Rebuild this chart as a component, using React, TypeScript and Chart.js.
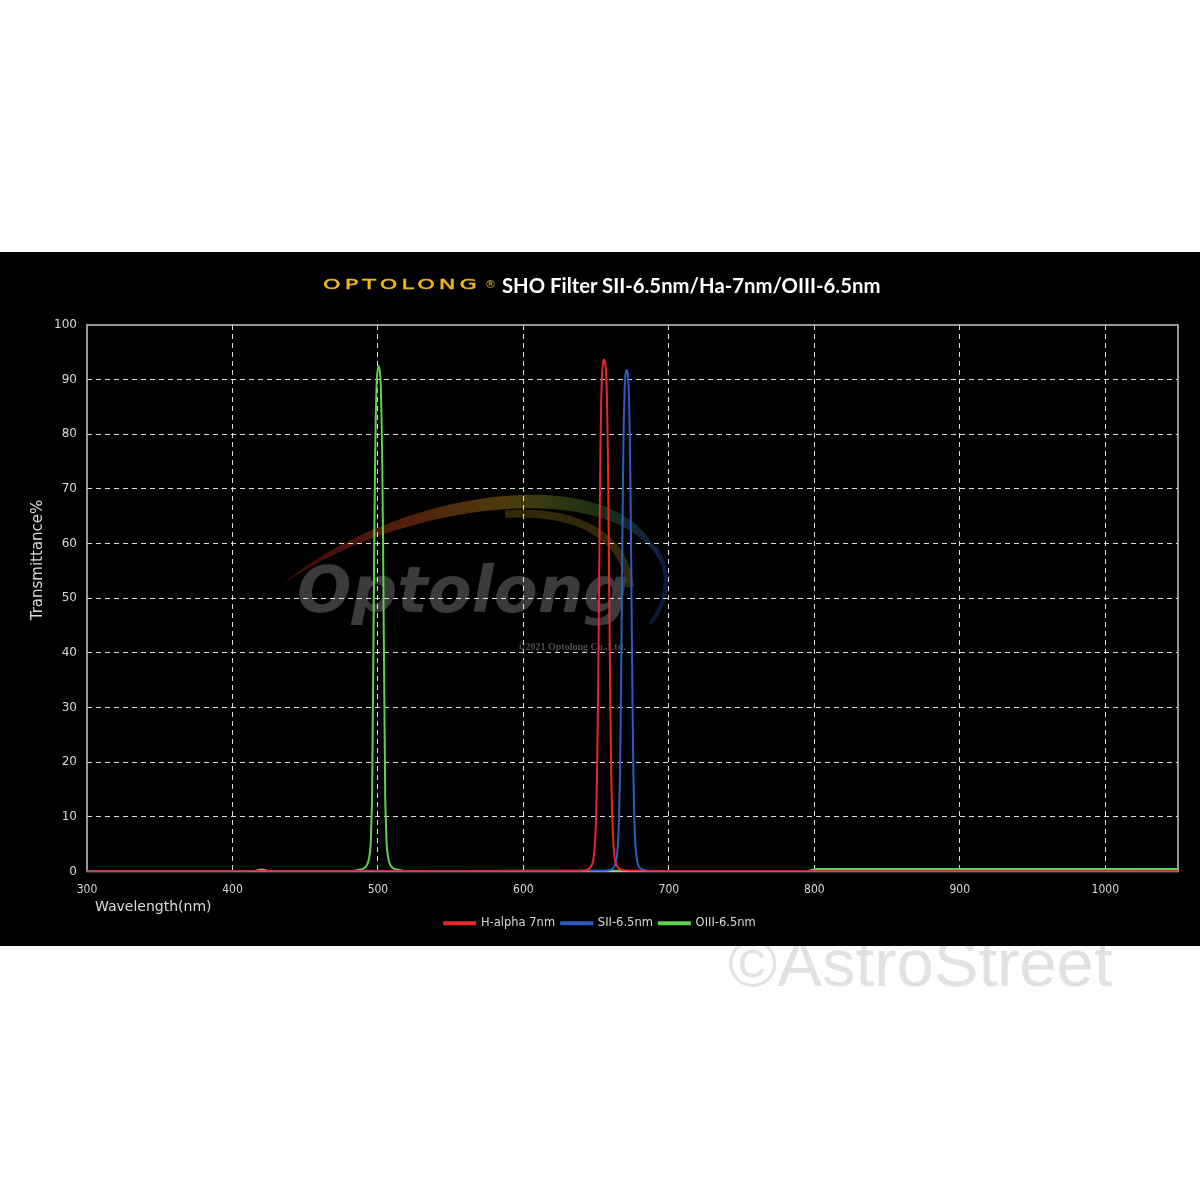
import React, { useEffect, useRef } from "react";
import { Chart, registerables } from "chart.js";

Chart.register(...registerables);

// ---- Data ----
const seriesLabels = ["H-alpha 7nm", "SII-6.5nm", "OIII-6.5nm"];
const seriesColors = ["#e8262b", "#2a5cc4", "#5fd04e"];

const haWl = [300, 600, 637.5, 642.5, 645.5, 647.5, 648.5, 649.5, 650, 650.5, 651, 651.5, 652, 652.5, 653, 653.5, 654, 654.5, 655.5, 656.5, 657, 657.5, 658, 658.5, 659, 659.5, 660, 660.5, 661, 661.5, 662.5, 663.5, 665.5, 668.5, 673.5, 700, 1050];
const haT = [0.05, 0.05, 0.1, 0.25, 0.6, 1.5, 3, 7, 10.5, 16, 25, 37, 51, 66, 78, 86, 90.5, 92.5, 93.7, 92.5, 90.5, 86, 78, 66, 51, 37, 25, 16, 10.5, 7, 3, 1.5, 0.6, 0.25, 0.1, 0.05, 0.05];

const siiWl = [300, 480, 492, 500, 512, 653, 658, 661, 663, 664, 665, 665.5, 666, 666.5, 667, 667.5, 668, 668.5, 669, 669.5, 670, 671, 672, 672.5, 673, 673.5, 674, 674.5, 675, 675.5, 676, 676.5, 677, 678, 679, 681, 684, 689, 1050];
const siiT = [0.05, 0.05, 0.12, 0.15, 0.05, 0.08, 0.2, 0.5, 1.1, 2.3, 5, 8, 12.5, 20, 31, 45, 60, 73, 82, 87.5, 90.3, 91.8, 90.3, 87.5, 82, 73, 60, 45, 31, 20, 12.5, 8, 5, 2.3, 1.1, 0.5, 0.2, 0.08, 0.05];

const oiiiWl = [300, 400, 415, 420, 425, 470, 480.5, 485, 488, 490.5, 492.5, 494, 495, 495.5, 496, 496.5, 497, 497.5, 498, 498.5, 499, 499.5, 500.5, 501.5, 502, 502.5, 503, 503.5, 504, 504.5, 505, 505.5, 506, 507, 508.5, 510.5, 513, 516, 520.5, 560, 650, 700, 795, 802, 900, 1000, 1050];
const oiiiT = [0.1, 0.1, 0.1, 0.35, 0.1, 0.1, 0.1, 0.2, 0.35, 0.6, 1.2, 2.6, 5, 9, 14, 29, 44, 61, 74, 83, 88.5, 91, 92.5, 91, 88.5, 83, 74, 61, 44, 29, 14, 9, 5, 2.6, 1.2, 0.6, 0.35, 0.2, 0.1, 0.1, 0.15, 0.1, 0.1, 0.45, 0.45, 0.45, 0.45];

const xTicks = [300, 400, 500, 600, 700, 800, 900, 1000];
const yTicks = [0, 10, 20, 30, 40, 50, 60, 70, 80, 90, 100];

const xTitle = "Wavelength(nm)";
const yTitle = "Transmittance%";

function toPoints(wl: number[], t: number[]) {
  return wl.map((x, i) => ({ x, y: t[i] }));
}

const PANEL_TOP = 252;

const decorPlugin = {
  id: "decor",
  beforeDraw(chart: any) {
    const ctx = chart.ctx;
    ctx.save();
    ctx.fillStyle = "#000";
    ctx.fillRect(0, 0, chart.width, chart.height);

    // swoosh
    const g = ctx.createLinearGradient(282, 0, 662, 0);
    g.addColorStop(0, "rgba(120,15,15,0.55)");
    g.addColorStop(0.35, "rgba(150,60,20,0.55)");
    g.addColorStop(0.6, "rgba(150,120,25,0.5)");
    g.addColorStop(0.82, "rgba(60,110,40,0.45)");
    g.addColorStop(1, "rgba(30,60,150,0.5)");
    ctx.fillStyle = g;
    ctx.beginPath();
    ctx.moveTo(282, 333);
    ctx.bezierCurveTo(390, 238, 630, 198, 662, 313);
    ctx.bezierCurveTo(618, 220, 395, 252, 282, 333);
    ctx.closePath();
    ctx.fill();

    ctx.strokeStyle = "rgba(150,115,30,0.35)";
    ctx.lineWidth = 8;
    ctx.beginPath();
    ctx.moveTo(505, 262);
    ctx.bezierCurveTo(580, 258, 625, 285, 630, 335);
    ctx.stroke();

    ctx.strokeStyle = "rgba(35,65,150,0.4)";
    ctx.lineWidth = 4;
    ctx.beginPath();
    ctx.moveTo(655, 295);
    ctx.bezierCurveTo(672, 320, 668, 350, 650, 372);
    ctx.stroke();

    // logo text
    ctx.font = 'italic bold 64px "DejaVu Sans"';
    ctx.fillStyle = "#3b3b3b";
    ctx.textBaseline = "alphabetic";
    ctx.fillText("Optolong", 297, 612 - PANEL_TOP);
    ctx.font = 'bold 10px "Liberation Serif"';
    ctx.fillStyle = "#4d4d4d";
    ctx.fillText("\u00a92021 Optolong Co.,Ltd.", 518, 650 - PANEL_TOP);
    ctx.restore();
  },
  beforeDatasetsDraw(chart: any) {
    const { ctx, chartArea: a } = chart;
    ctx.save();
    ctx.strokeStyle = "#c8c8c8";
    ctx.lineWidth = 1.5;
    ctx.strokeRect(a.left, a.top, a.right - a.left, a.bottom - a.top);
    ctx.restore();
  },
  afterDraw(chart: any) {
    const { ctx, chartArea: a } = chart;
    ctx.save();
    ctx.fillStyle = "#dcdcdc";
    ctx.font = '15px "DejaVu Sans"';
    ctx.textBaseline = "middle";
    ctx.textAlign = "center";
    ctx.translate(38, 560 - PANEL_TOP);
    ctx.rotate(-Math.PI / 2);
    ctx.fillText(yTitle, 0, 0);
    ctx.restore();
    ctx.save();
    ctx.fillStyle = "#dcdcdc";
    ctx.font = '14px "DejaVu Sans"';
    ctx.textBaseline = "middle";
    ctx.textAlign = "left";
    ctx.fillText(xTitle, a.left + 8, 907 - PANEL_TOP);
    ctx.restore();
  },
};

export default function App() {
  const ref = useRef<HTMLCanvasElement | null>(null);

  useEffect(() => {
    if (!ref.current) return;
    const gridColor = (c: any) =>
      c.tick && (c.tick.value === 0 || c.tick.value === 100 || c.tick.value === 300)
        ? "rgba(0,0,0,0)"
        : "rgba(255,255,255,0.85)";
    const chart = new Chart(ref.current, {
      type: "line",
      data: {
        datasets: [
          { label: seriesLabels[0], data: toPoints(haWl, haT), borderColor: seriesColors[0], backgroundColor: seriesColors[0] },
          { label: seriesLabels[1], data: toPoints(siiWl, siiT), borderColor: seriesColors[1], backgroundColor: seriesColors[1] },
          { label: seriesLabels[2], data: toPoints(oiiiWl, oiiiT), borderColor: seriesColors[2], backgroundColor: seriesColors[2] },
        ],
      },
      options: {
        responsive: false,
        animation: false,
        devicePixelRatio: 1,
        elements: {
          point: { radius: 0 },
          line: { borderWidth: 2, cubicInterpolationMode: "monotone", fill: false },
        },
        layout: { padding: { top: 73, right: 22, left: 22, bottom: 7 } },
        plugins: {
          tooltip: { enabled: false },
          legend: {
            position: "bottom",
            labels: {
              color: "#d8d8d8",
              font: { family: '"DejaVu Sans"', size: 11.5 },
              boxWidth: 31,
              boxHeight: 2,
              padding: 6,
            },
          },
        },
        scales: {
          x: {
            type: "linear",
            min: 300,
            max: 1050,
            afterBuildTicks: (s: any) => {
              s.ticks = xTicks.map((v) => ({ value: v }));
            },
            afterFit: (s: any) => {
              s.height = 40;
            },
            grid: { color: gridColor, lineWidth: 1, drawTicks: false },
            border: { display: false, dash: [5, 4] },
            ticks: {
              color: "#d8d8d8",
              padding: 11,
              maxRotation: 0,
              callback: (v: any) => String(v),
              font: { family: '"DejaVu Sans Condensed", "DejaVu Sans"', size: 12 },
            },
          },
          y: {
            type: "linear",
            min: 0,
            max: 100,
            afterBuildTicks: (s: any) => {
              s.ticks = yTicks.map((v) => ({ value: v }));
            },
            afterFit: (s: any) => {
              s.width = 65;
            },
            grid: { color: gridColor, lineWidth: 1, drawTicks: false },
            border: { display: false, dash: [5, 4] },
            ticks: {
              color: "#d8d8d8",
              padding: 10,
              callback: (v: any) => String(v),
              font: { family: '"DejaVu Sans"', size: 12 },
            },
          },
        },
      },
      plugins: [decorPlugin],
    } as any);
    return () => chart.destroy();
  }, []);

  return (
    <div style={{ position: "absolute", left: 0, top: 0, width: 1200, height: 1200, background: "#fff", overflow: "hidden" }}>
      <div
        style={{
          position: "absolute",
          left: 728,
          top: 929,
          font: '67px "Liberation Sans", Arial, sans-serif',
          lineHeight: "67px",
          color: "#e2e2e2",
          whiteSpace: "nowrap",
        }}
      >
        ©AstroStreet
      </div>
      <div style={{ position: "absolute", left: 0, top: PANEL_TOP, width: 1200, height: 694, background: "#000" }}>
        <canvas ref={ref} width={1200} height={694} style={{ display: "block", width: 1200, height: 694 }} />
        <div
          style={{
            position: "absolute",
            left: 323,
            top: 285 - PANEL_TOP - 9,
            height: 18,
            lineHeight: "18px",
            font: '14px "DejaVu Sans"',
            letterSpacing: "2.5px",
            color: "#efb71d",
            WebkitTextStroke: "0.4px #efb71d",
            transform: "scaleX(1.6)",
            transformOrigin: "left center",
            whiteSpace: "nowrap",
          }}
        >
          OPTOLONG
        </div>
        <div
          style={{
            position: "absolute",
            left: 485,
            top: 285 - PANEL_TOP - 7,
            lineHeight: "14px",
            font: '11px "DejaVu Sans"',
            color: "#efb71d",
          }}
        >
          ®
        </div>
        <div
          style={{
            position: "absolute",
            left: 502,
            top: 285 - PANEL_TOP - 12,
            lineHeight: "24px",
            font: 'bold 20.3px Lato, "Open Sans", sans-serif',
            color: "#ffffff",
            whiteSpace: "nowrap",
          }}
        >
          SHO Filter SII-6.5nm/Ha-7nm/OIII-6.5nm
        </div>
      </div>
    </div>
  );
}
